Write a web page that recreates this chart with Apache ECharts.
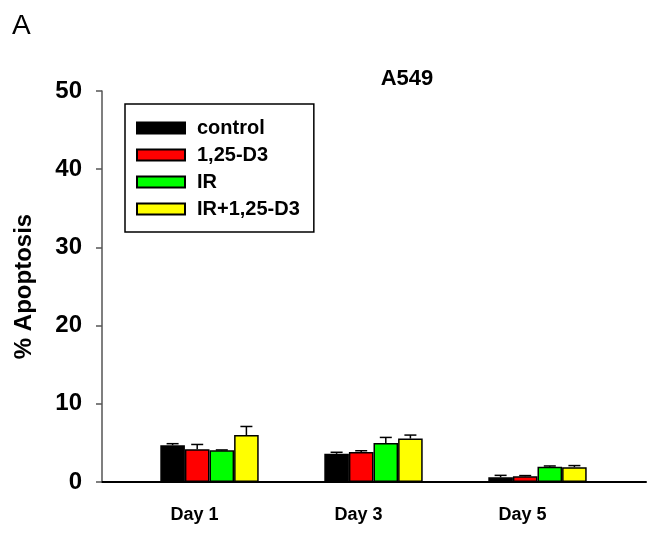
<!DOCTYPE html>
<html>
<head>
<meta charset="utf-8">
<script src="https://cdn.jsdelivr.net/npm/echarts@6/dist/echarts.min.js"></script>
<style>
html,body{margin:0;padding:0;background:#fff;}
#chart{width:670px;height:535px;}
</style>
</head>
<body>
<div id="chart"></div>
<script>
const categories = ['Day 1', 'Day 3', 'Day 5'];
const seriesNames = ['control', '1,25-D3', 'IR', 'IR+1,25-D3'];
const control = [4.7, 3.6, 0.6];
const d3 = [4.2, 3.85, 0.72];
const ir = [4.05, 5.0, 1.95];
const irD3 = [6.0, 5.55, 1.9];
const controlErr = [0.2, 0.2, 0.25];
const d3Err = [0.6, 0.15, 0.1];
const irErr = [0.05, 0.7, 0.1];
const irD3Err = [1.1, 0.45, 0.2];
const yTicks = [0, 10, 20, 30, 40, 50];
const colors = ['#000000', '#ff0000', '#00ff00', '#ffff00'];

const values = [control, d3, ir, irD3];
const errs = [controlErr, d3Err, irErr, irD3Err];
const FONT = '"Liberation Sans", Arial, sans-serif';
const nSeries = values.length;
const catGap = 0.4;

const chart = echarts.init(document.getElementById('chart'), null, {renderer: 'canvas'});

const barSeries = values.map((vals, i) => ({
  name: seriesNames[i],
  type: 'bar',
  xAxisIndex: 0,
  yAxisIndex: 0,
  data: vals,
  barGap: '0%',
  barCategoryGap: (catGap * 100) + '%',
  itemStyle: {color: colors[i], borderColor: '#000', borderWidth: 1.5},
  z: 2
}));

const errSeries = values.map((vals, i) => ({
  name: seriesNames[i] + ' err',
  type: 'custom',
  xAxisIndex: 0,
  yAxisIndex: 0,
  data: vals.map((v, j) => [j, v, v + errs[i][j]]),
  z: 3,
  silent: true,
  renderItem: function (params, api) {
    const band = api.size([1, 0])[0];
    const bw = band * (1 - catGap) / nSeries;
    const c = api.coord([api.value(0), api.value(1)]);
    const t = api.coord([api.value(0), api.value(2)]);
    const x = c[0] + (i - (nSeries - 1) / 2) * bw;
    const cap = 6;
    const style = {stroke: '#000', lineWidth: 1.5};
    return {
      type: 'group',
      children: [
        {type: 'line', shape: {x1: x, y1: c[1], x2: x, y2: t[1]}, style: style},
        {type: 'line', shape: {x1: x - cap, y1: t[1], x2: x + cap, y2: t[1]}, style: style}
      ]
    };
  }
}));

const option = {
  animation: false,
  backgroundColor: '#fff',
  title: {
    text: 'A549',
    left: 402,
    top: 63,
    textAlign: 'center',
    textStyle: {fontFamily: FONT, fontSize: 22, fontWeight: 'bold', color: '#000'}
  },
  graphic: [{
    type: 'text',
    left: 12,
    top: 12,
    style: {text: 'A', fontFamily: FONT, fontSize: 28, fill: '#000'}
  }],
  legend: {
    data: seriesNames,
    orient: 'vertical',
    left: 125,
    top: 104,
    itemWidth: 48,
    itemHeight: 11,
    itemGap: 7,
    icon: 'rect',
    padding: [14, 14, 13, 11],
    borderColor: '#000',
    borderWidth: 1.5,
    backgroundColor: '#fff',
    textStyle: {fontFamily: FONT, fontSize: 20, fontWeight: 'bold', color: '#000', padding: [0, 0, 0, 7]}
  },
  grid: [
    {left: 127.5, width: 492, top: 91, height: 391, containLabel: false},
    {left: 102, right: 24, top: 91, height: 391, containLabel: false}
  ],
  xAxis: [
    {
      type: 'category',
      gridIndex: 0,
      data: categories,
      axisLine: {show: false},
      axisTick: {show: false},
      axisLabel: {margin: 24, fontFamily: FONT, fontSize: 18, fontWeight: 'bold', color: '#000', padding: [0, 30, 0, 0]},
      splitLine: {show: false}
    },
    {
      type: 'value',
      gridIndex: 1,
      min: 0,
      max: 1,
      axisLine: {show: true, onZero: false, lineStyle: {color: '#000', width: 2}},
      axisTick: {show: false},
      axisLabel: {show: false},
      splitLine: {show: false}
    }
  ],
  yAxis: [
    {
      type: 'value',
      gridIndex: 0,
      min: yTicks[0],
      max: yTicks[yTicks.length - 1],
      interval: yTicks[1] - yTicks[0],
      offset: 25.5,
      name: '% Apoptosis',
      nameLocation: 'middle',
      nameRotate: 90,
      nameGap: 66,
      nameTextStyle: {fontFamily: FONT, fontSize: 24, fontWeight: 'bold', color: '#000'},
      axisLine: {show: true, lineStyle: {color: '#555', width: 1.5}},
      axisTick: {show: true, inside: false, length: 6, lineStyle: {color: '#555', width: 1.5}},
      axisLabel: {margin: 20, fontFamily: FONT, fontSize: 24, fontWeight: 'bold', color: '#000'},
      splitLine: {show: false}
    },
    {
      type: 'value',
      gridIndex: 1,
      show: false,
      min: 0,
      max: 1
    }
  ],
  series: barSeries.concat(errSeries)
};

chart.setOption(option);
</script>
</body>
</html>
